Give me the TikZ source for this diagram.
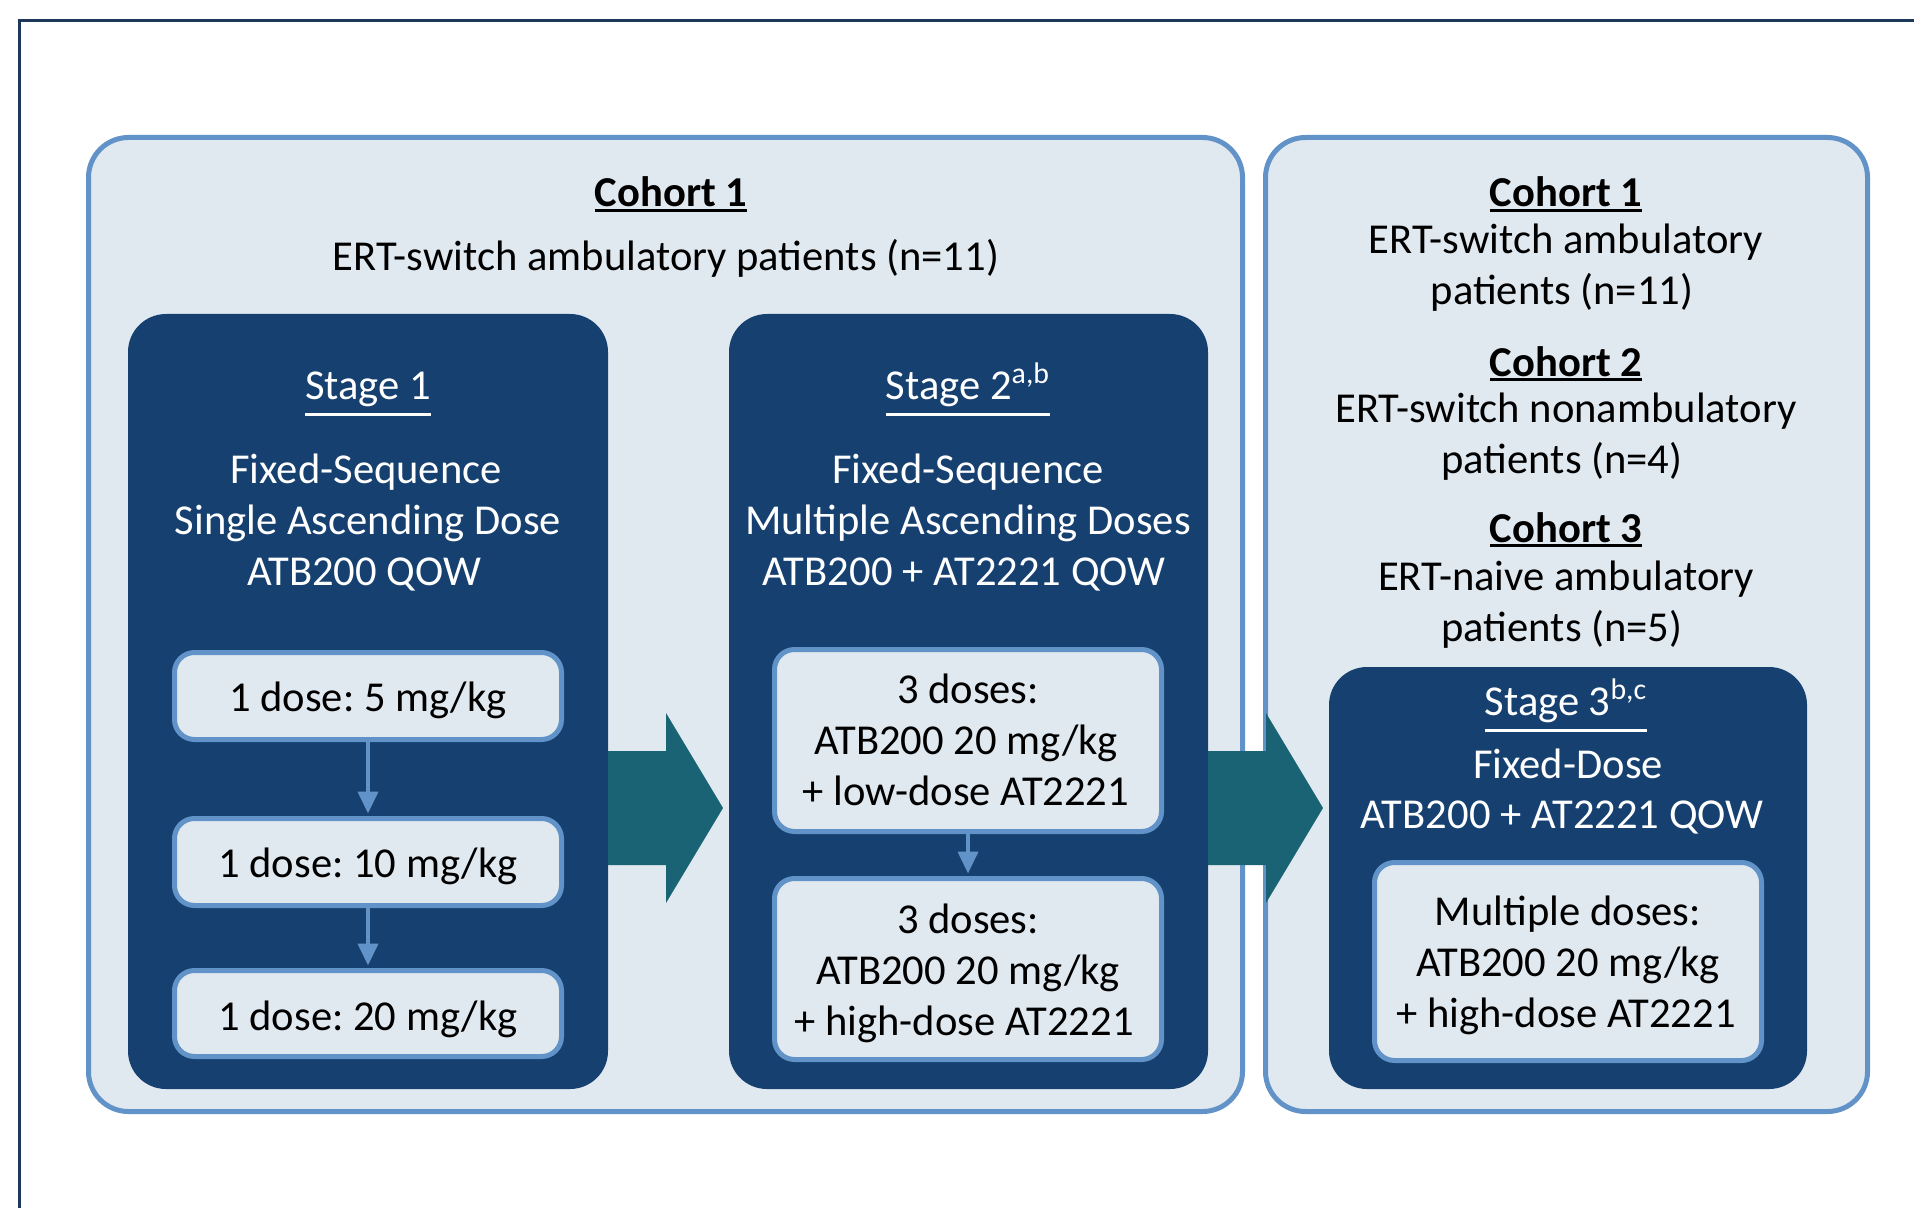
\documentclass[tikz,border=0pt]{standalone}
\usepackage{fontspec}
\setmainfont{Carlito}
\usetikzlibrary{arrows.meta,fit}
\definecolor{navy}{RGB}{21,64,111}
\definecolor{lightbg}{RGB}{225,233,240}
\definecolor{bordblue}{RGB}{98,147,200}
\definecolor{framec}{RGB}{30,56,92}
\definecolor{tealc}{RGB}{26,99,117}
\newcommand\cul[1]{\setbox0\hbox{#1}\rlap{\rule[-2.4pt]{\wd0}{1.6pt}}\box0}
\newcommand\sul[1]{\setbox0\hbox{#1}\rlap{\rule[-8.25pt]{\wd0}{1.5pt}}\box0}
\frenchspacing
\tikzset{
  panel/.style={draw=bordblue, fill=lightbg, line width=2.5pt, rounded corners=20pt, inner sep=0pt},
  stagebox/.style={fill=navy, rounded corners=19pt, inner sep=0pt},
  inbox/.style={draw=bordblue, fill=lightbg, line width=2.5pt, rounded corners=10pt, inner sep=0pt},
  bigarrow/.style={fill=tealc},
  sarrow/.style={draw=bordblue, line width=2pt, -{Triangle[width=10pt,length=11pt]}, shorten >=1.25pt},
  dtxt/.style={anchor=base, inner sep=0pt, text=black, font=\fontsize{21.3pt}{25.6pt}\selectfont\frenchspacing},
  wtxt/.style={anchor=base, inner sep=0pt, text=white, font=\fontsize{21.3pt}{25.6pt}\selectfont\frenchspacing},
}
\begin{document}
\begin{tikzpicture}[x=0.5pt,y=-0.5pt]
\useasboundingbox (0,0) rectangle (1914,1208);
\fill[white] (0,0) rectangle (1914,1208);
% frame
\draw[framec, line width=1.3pt] (19.5,1208) -- (19.5,20.5) -- (1914,20.5);
% panels
\node[panel, fit={(88.5,137.5) (1242.5,1111.5)}] (leftpanel) {};
\node[panel, fit={(1265.5,137.5) (1867.5,1111.5)}] (rightpanel) {};
% stage boxes
\node[stagebox, fit={(128,314) (608,1089)}] (stage1) {};
\node[stagebox, fit={(729,314) (1208,1089)}] (stage2) {};
\node[stagebox, fit={(1329,667) (1807,1089)}] (stage3) {};
% big arrows
\fill[bigarrow] (608,751) -- (666,751) -- (666,713) -- (723,808) -- (666,903) -- (666,865) -- (608,865) -- cycle;
\fill[bigarrow] (1208,751) -- (1266,751) -- (1266,713) -- (1323,808) -- (1266,903) -- (1266,865) -- (1208,865) -- cycle;
% inner boxes
\node[inbox, fit={(174.5,652.5) (561.5,739.5)}] (s1a) {};
\node[inbox, fit={(174.5,818.5) (561.5,905.5)}] (s1b) {};
\node[inbox, fit={(174.5,970.5) (561.5,1056.5)}] (s1c) {};
\node[inbox, fit={(774.5,649.5) (1161.5,831.5)}] (s2a) {};
\node[inbox, fit={(774.5,878.5) (1161.5,1059.5)}] (s2b) {};
\node[inbox, fit={(1374.5,862.5) (1761.5,1060.5)}] (s3a) {};
% small arrows
\draw[sarrow] (s1a) -- (s1b);
\draw[sarrow] (s1b) -- (s1c);
\draw[sarrow] (s2a) -- (s2b);
% left panel texts
\node[dtxt] (c1title) at (671,207) {\bfseries\cul{Cohort 1}};
\node[dtxt] (c1desc) at (666,271) {ERT-switch ambulatory patients (n=11)};
% stage 1
\node[wtxt] (st1title) at (368,399) {\sul{Stage 1}};
\node[wtxt] (st1l1) at (366,483) {Fixed-Sequence};
\node[wtxt] (st1l2) at (368,534) {Single Ascending Dose};
\node[wtxt] (st1l3) at (364,585) {ATB200 QOW};
\node[dtxt] (t1a) at (368,711) {1 dose: 5 mg/kg};
\node[dtxt] (t1b) at (368,877) {1 dose: 10 mg/kg};
\node[dtxt] (t1c) at (368,1030) {1 dose: 20 mg/kg};
% stage 2
\node[wtxt] (st2title) at (968,399) {\sul{Stage 2\textsuperscript{a,b}}};
\node[wtxt] (st2l1) at (968,483) {Fixed-Sequence};
\node[wtxt] (st2l2) at (968,534) {Multiple Ascending Doses};
\node[wtxt] (st2l3) at (964,585) {ATB200 + AT2221 QOW};
\node[dtxt] (t2a1) at (968,703) {3 doses:};
\node[dtxt] (t2a2) at (966,754) {ATB200 20 mg/kg};
\node[dtxt] (t2a3) at (966,805) {+ low-dose AT2221};
\node[dtxt] (t2b1) at (968,933) {3 doses:};
\node[dtxt] (t2b2) at (968,984) {ATB200 20 mg/kg};
\node[dtxt] (t2b3) at (964,1035) {+ high-dose AT2221};
% right panel texts
\node[dtxt] (rc1) at (1566,207) {\bfseries\cul{Cohort 1}};
\node[dtxt] (rc1a) at (1566,254) {ERT-switch ambulatory};
\node[dtxt] (rc1b) at (1562,305) {patients (n=11)};
\node[dtxt] (rc2) at (1566,376) {\bfseries\cul{Cohort 2}};
\node[dtxt] (rc2a) at (1566,422) {ERT-switch nonambulatory};
\node[dtxt] (rc2b) at (1562,473) {patients (n=4)};
\node[dtxt] (rc3) at (1566,542) {\bfseries\cul{Cohort 3}};
\node[dtxt] (rc3a) at (1566,590) {ERT-naive ambulatory};
\node[dtxt] (rc3b) at (1562,641) {patients (n=5)};
% stage 3
\node[wtxt] (st3title) at (1566,715) {\sul{Stage 3\textsuperscript{b,c}}};
\node[wtxt] (st3l1) at (1568,778) {Fixed-Dose};
\node[wtxt] (st3l2) at (1562,828) {ATB200 + AT2221 QOW};
\node[dtxt] (t3a) at (1568,925) {Multiple doses:};
\node[dtxt] (t3b) at (1568,976) {ATB200 20 mg/kg};
\node[dtxt] (t3c) at (1566,1027) {+ high-dose AT2221};
\end{tikzpicture}
\end{document}
